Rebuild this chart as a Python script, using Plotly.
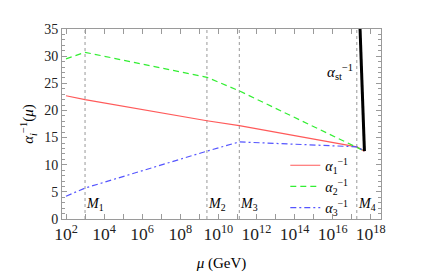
import plotly.graph_objects as go

# Data (log10 of mu in GeV, and inverse couplings)
mu_exp = [2.0, 3.0, 9.4, 11.1, 17.27, 17.67]
alpha1_inv = [22.7, 22.0, 18.1, 17.2, 13.3, 12.5]
alpha2_inv = [29.5, 30.7, 26.1, 23.6, 13.2, 12.5]
alpha3_inv = [4.2, 5.7, 12.5, 14.2, 13.3, 12.5]
string_exp = [17.67, 17.44]
string_inv = [12.5, 35.0]
thresholds_exp = [3.0, 9.4, 11.1, 17.27]
threshold_labels = ["M<sub>1</sub>", "M<sub>2</sub>", "M<sub>3</sub>", "M<sub>4</sub>"]

mu = [10 ** e for e in mu_exp]
mu_st = [10 ** e for e in string_exp]
mu_th = [10 ** e for e in thresholds_exp]

FONT = "Liberation Serif, Times New Roman, DejaVu Serif, serif"
GRAY = "#9a9a9a"

fig = go.Figure()

for m in mu_th:
    fig.add_trace(go.Scatter(x=[m, m], y=[0, 35], mode="lines",
                             line=dict(color="#999999", width=1, dash="dot"),
                             showlegend=False, hoverinfo="skip"))

fig.add_trace(go.Scatter(x=mu, y=alpha1_inv, mode="lines",
                         line=dict(color="#ff5a5a", width=1.2),
                         name="<i>α</i><sub>1</sub><sup>−1</sup>"))
fig.add_trace(go.Scatter(x=mu, y=alpha2_inv, mode="lines",
                         line=dict(color="#33ee33", width=1.2, dash="6px,4px"),
                         name="<i>α</i><sub>2</sub><sup>−1</sup>"))
fig.add_trace(go.Scatter(x=mu, y=alpha3_inv, mode="lines",
                         line=dict(color="#5555ff", width=1.2, dash="6px,3px,2px,3px"),
                         name="<i>α</i><sub>3</sub><sup>−1</sup>"))
fig.add_trace(go.Scatter(x=mu_st, y=string_inv, mode="lines",
                         line=dict(color="black", width=3),
                         showlegend=False))

# annotations on a log axis take log10 coordinates
for e, lab in zip(thresholds_exp, threshold_labels):
    fig.add_annotation(x=e, y=2.7, xref="x", yref="y",
                       text="<i>" + lab.replace("<sub>", "</i><sub>"),
                       showarrow=False, xanchor="left", xshift=-1,
                       font=dict(family=FONT, size=14, color="black"))

fig.add_annotation(x=17.16, y=27.0, xref="x", yref="y",
                   text="<i>α</i><sub>st</sub><sup>−1</sup>", showarrow=False,
                   xanchor="right", font=dict(family=FONT, size=15, color="black"))

axis_common = dict(showgrid=False, zeroline=False, showline=True, linecolor=GRAY,
                   linewidth=1, mirror="allticks", ticks="inside", ticklen=5,
                   tickcolor=GRAY, tickfont=dict(family=FONT, size=14, color="#222"))

fig.update_xaxes(type="log", range=[1.79, 18.54], dtick=2, tick0=0,
                 exponentformat="power",
                 minor=dict(dtick=1, ticks="inside", ticklen=5, tickcolor=GRAY),
                 title=dict(text="<i>μ</i> (GeV)", font=dict(family=FONT, size=15, color="black"),
                            standoff=14),
                 **axis_common)
fig.update_yaxes(range=[0, 35], dtick=5,
                 minor=dict(dtick=1, ticks="inside", ticklen=3, tickcolor=GRAY),
                 title=dict(text="<i>α<sub>i</sub></i><sup>−1</sup>(<i>μ</i>)",
                            font=dict(family=FONT, size=15, color="black"), standoff=6),
                 **axis_common)

fig.update_layout(
    width=436, height=273,
    margin=dict(l=54, r=63, t=21, b=55),
    plot_bgcolor="white", paper_bgcolor="white",
    font=dict(family=FONT, size=14, color="black"),
    legend=dict(x=0.70, y=0.365, xanchor="left", yanchor="top",
                bgcolor="rgba(0,0,0,0)", tracegroupgap=0,
                font=dict(family=FONT, size=14), itemwidth=30),
)

fig.write_html("out.html")
